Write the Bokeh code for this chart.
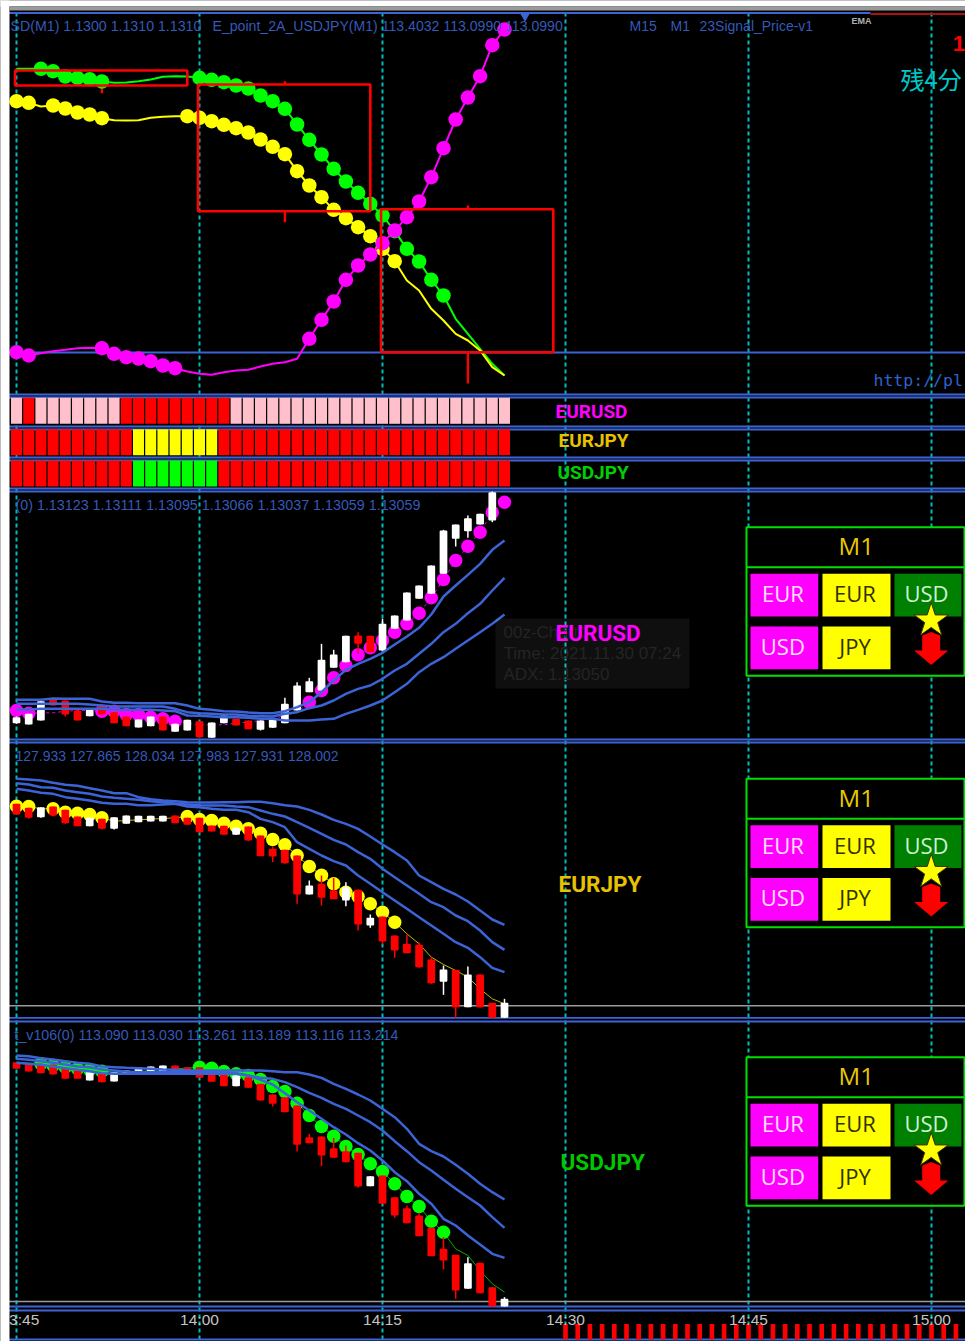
from bokeh.plotting import figure
from bokeh.models import Range1d, FixedTicker
from bokeh.core.properties import value
from bokeh.embed import file_html
from bokeh.resources import INLINE
import numpy as np

# ---------- time axis ----------
minutes = list(range(-15, 26))
tick_minutes = [-15, 0, 15, 30, 45, 60]
tick_labels = ["13:45", "14:00", "14:15", "14:30", "14:45", "15:00"]

# ---------- top panel: three lines (readings, 1/3 px from page top) ----------
top_green = [205,205,205,212,228,232,236,243,247,246,242,237,229,227,228,232,238,245,255,264,285,302,325,372,418,462,505,543,577,610,645,692,745,783,838,885,955,1000,1045,1090,1125]
top_yellow = [302,307,318,315,324,336,342,353,359,360,359,352,349,347,347,352,362,373,383,396,417,439,461,512,555,590,628,653,680,707,745,782,840,870,925,960,1000,1020,1050,1100,1125]
top_magenta = [1055,1065,1058,1052,1048,1043,1042,1043,1060,1070,1074,1082,1095,1103,1113,1120,1123,1115,1110,1108,1098,1090,1085,1075,1015,958,903,838,795,762,728,690,650,603,530,443,357,291,227,134,87]
green_dot_minutes = [-13,-12,-11,-10,-9,-8] + list(range(0, 21))
yellow_dot_minutes = [-15,-14,-12,-11,-10,-9,-8] + list(range(-1, 17))
magenta_dot_minutes = [-15,-14,-8,-7,-6,-5,-4,-3,-2] + list(range(9, 26))

# M15 candles of the top panel
m15_start = [-15, 0, 15]
m15_top = [70, 84, 208.7]
m15_bottom = [85, 210.7, 351.7]
m15_high = [70, 80.7, 205]
m15_low = [92.7, 221.7, 383]

# ---------- signal strips ----------
strip_rows = ["EURUSD", "EURJPY", "USDJPY"]
eurusd_state = list("prppppppp" "rrrrrrrrr" "ppppppppppppppppppppppp")
eurjpy_state = list("rrrrrrrrrr" "yyyyyyy" "rrrrrrrrrrrrrrrrrrrrrrrr")
usdjpy_state = list("rrrrrrrrrr" "ggggggg" "rrrrrrrrrrrrrrrrrrrrrrrr")

# ---------- EURUSD candles ----------
eu_top = [980,970,932,928,930,960,958,945,965,978,987,978,978,1000,988,992,996,975,985,990,990,985,940,885,872,808,792,736,735,736,700,675,606,585,525,420,402,383,370,305]
eu_bot = [998,1002,990,945,972,990,977,972,998,1007,1011,1007,1020,1024,1020,1040,1042,998,1005,1016,1018,1012,998,960,905,900,832,815,760,785,780,715,690,625,610,550,445,422,402,390]
eu_hi = [978,970,932,928,930,960,958,945,965,978,987,978,978,1000,988,992,996,975,985,990,990,985,922,875,862,760,778,736,725,736,685,675,606,585,525,418,402,375,370,303]
eu_lo = [1000,1002,990,945,978,990,977,972,998,1007,1011,1007,1020,1024,1020,1040,1042,998,1005,1016,1020,1012,998,960,905,900,832,815,790,785,780,715,690,625,610,550,468,442,402,395]
eu_col = list("wwwrrrwrrrwwrwwrwwrrwwwwwwwwrrwwwwwwwwww")
eu_ema = [960,968,967,967,962,960,960,962,962,972,972,980,985,992,998,1003,1003,1003,998,995,990,985,975,965,935,900,862,825,793,772,750,725,700,668,622,567,510,467,425,366,335]
eu_a = [928,928,928,924,925,925,925,933,937,937,938,938,938,938,945,955,958,962,963,966,968,968,962,950,935,905,870,838,820,805,787,762,738,712,672,618,585,553,520,478,450]
eu_b = [940,940,940,940,940,940,942,945,948,948,948,948,948,955,965,968,970,972,972,976,977,978,970,965,953,945,930,910,895,885,865,840,820,790,760,725,700,668,640,600,562]
eu_c = [957,957,955,955,955,955,955,955,958,958,958,958,960,962,975,976,978,980,980,982,985,985,990,990,990,987,985,970,958,945,930,905,880,845,820,800,775,750,725,700,672]

# ---------- EURJPY candles ----------
ej_top = [190,202,200,198,208,228,232,235,230,225,226,226,226,225,232,232,255,256,262,258,285,325,328,345,435,430,450,440,448,532,528,585,610,613,657,687,688,702,702,787,787]
ej_bot = [222,232,230,225,248,257,257,265,265,250,245,243,243,248,253,275,273,283,283,300,347,348,368,462,462,472,476,480,552,555,603,630,638,680,728,724,800,800,800,832,832]
ej_hi = [190,202,200,198,208,228,232,235,230,225,226,226,226,225,232,232,255,256,262,258,285,318,328,345,420,405,412,425,448,522,528,585,582,605,650,675,688,678,702,787,775]
ej_lo = [222,235,232,228,250,257,257,267,267,250,245,243,243,248,253,277,273,283,283,302,347,365,370,490,462,495,476,497,570,562,612,652,638,682,730,763,832,800,802,832,832]
ej_col = list("rrwrrrwrwwwwwrrrrrwrrrrrwrrwrwrrrrrwrwrrw")
ej_ema = [197,198,205,205,215,218,222,232,242,240,238,236,234,232,228,237,240,248,257,265,278,297,313,345,378,404,430,455,468,490,515,545,580,610,650,672,690,710,745,775,790]
ej_a = [115,117,120,127,133,136,143,150,158,158,170,176,180,182,185,186,186,185,185,184,184,188,194,198,208,222,238,250,265,288,312,335,360,405,425,445,462,483,510,537,553]
ej_b = [128,132,140,142,150,155,160,168,172,175,178,182,185,190,192,194,195,195,198,200,210,220,228,245,262,280,298,312,335,355,385,410,435,460,485,500,525,542,570,605,628]
ej_c = [145,150,157,160,170,175,180,187,190,190,194,194,192,190,198,200,205,208,208,215,235,245,260,305,325,345,362,375,405,430,455,480,505,530,555,580,605,622,650,682,695]

# ---------- USDJPY candles ----------
uj_top = [125,130,130,132,145,150,155,158,155,150,140,138,135,135,140,140,160,160,165,170,190,222,230,255,350,348,383,392,397,467,465,530,563,585,622,685,703,728,727,800,835]
uj_bot = [145,153,158,162,175,175,180,185,183,162,160,158,155,155,158,172,184,197,197,202,240,250,275,373,368,405,412,425,498,497,550,585,608,647,707,720,810,805,818,858,858]
uj_hi = [125,130,130,132,145,150,155,158,155,150,140,138,135,135,140,140,160,160,165,170,190,222,230,255,340,348,352,375,397,467,465,530,555,578,622,650,703,710,727,800,830]
uj_lo = [145,153,158,162,175,175,180,185,183,162,160,158,155,155,158,172,184,197,197,202,240,258,275,393,368,437,412,425,502,497,550,592,608,647,707,747,835,805,818,858,858]
uj_col = list("rrrrrrwrwwwwwrrrrrwrrrrrrrrrrwrrrrrrrwrrw")
uj_ema = [125,128,130,135,140,145,148,152,155,155,153,150,148,145,143,140,143,153,160,165,177,198,213,248,285,318,347,378,402,430,453,490,528,558,602,635,685,705,750,790,815]
uj_a = [105,107,113,117,122,127,130,138,140,142,143,145,147,148,150,150,150,150,150,150,150,152,155,155,162,172,190,205,222,240,265,290,325,370,392,408,433,460,490,515,537]
uj_b = [115,118,122,127,132,138,140,147,150,153,155,155,155,155,155,155,155,155,158,165,172,175,185,200,217,232,250,265,285,305,330,362,392,425,450,478,505,530,555,590,622]
uj_c = [127,130,133,138,143,148,152,158,160,160,160,160,160,160,160,160,160,160,160,165,178,192,218,245,270,295,320,342,368,390,420,455,482,520,550,595,615,645,672,700,712]

# ---------- future bars along the bottom ----------
future_minutes = list(range(30, 63))
future_top = [1323.5] * 33

# ---------- titles ----------
title_top_a = "SD(M1) 1.1300 1.1310 1.1310"
title_top_b = "E_point_2A_USDJPY(M1) 113.4032 113.0990 113.0990"
title_tf = ["M15", "M1", "23Signal_Price-v1"]
title_eu = "(0) 1.13123 1.13111 1.13095 1.13066 1.13037 1.13059 1.13059"
title_ej = "127.933 127.865 128.034 127.983 127.931 128.002"
title_uj = "t_v106(0) 113.090 113.030 113.261 113.189 113.116 113.214"

BLUE = "#3c64d6"
TXT = "#3559b8"
RED = "#ff0000"
WHITE = "#ffffff"
PX0, PXM = 199.0, 12.2
def X(px):
    return (np.asarray(px, dtype=float) - PX0) / PXM
def Z(readings, base=0.0):
    return base + np.asarray(readings, dtype=float) / 3.0

p = figure(width=965, height=1341, output_backend="svg", toolbar_location=None,
           x_range=Range1d(float(X(0)), float(X(965))), y_range=Range1d(1341, 0),
           background_fill_color="#000000", border_fill_color="#000000", min_border=0,
           outline_line_color=None)
p.grid.visible = False
p.yaxis.visible = False

ax = p.xaxis[0]
ax.fixed_location = 1307
ax.ticker = FixedTicker(ticks=tick_minutes)
ax.major_label_overrides = dict(zip(tick_minutes, tick_labels))
ax.axis_line_color = None
ax.major_tick_line_color = None
ax.minor_tick_line_color = None
ax.major_tick_in = 0
ax.major_tick_out = 0
ax.major_label_standoff = 3
ax.major_label_text_color = "#c4c4c4"
ax.major_label_text_font = "Liberation Sans"
ax.major_label_text_font_size = "15.5px"

# dashed time lines
p.segment(tick_minutes, [12]*6, tick_minutes, [1341]*6, line_color="#00bcbc", line_width=2, line_dash="4 3")

# horizontal separators
sep_y = [352, 394, 397, 426, 429, 457, 460, 488, 491, 739, 742, 1017.3, 1021, 1306, 1310, 1339]
p.segment([X(8)]*len(sep_y), sep_y, [X(965)]*len(sep_y), sep_y, line_color=BLUE, line_width=1.8)
p.segment([X(8)], [12.5], [X(870)], [12.5], line_color=BLUE, line_width=2)
p.segment([X(870)], [13.5], [X(965)], [13.5], line_color="#b01010", line_width=2)
p.scatter([X(524.5)], [16], marker="inverted_triangle", size=9, fill_color=BLUE, line_color=None)
grey_y = [1005.3, 1301]
p.segment([X(8)]*2, grey_y, [X(965)]*2, grey_y, line_color="#9a9a9a", line_width=1.6)

# top panel M15 candles
for s, t, b, h, l in zip(m15_start, m15_top, m15_bottom, m15_high, m15_low):
    p.segment([s + 7]*2, [h, b], [s + 7]*2, [t, l], line_color=RED, line_width=2.4)

# top panel lines and dots
def ema(series, dots, line_color, width, dot_color, size=14.5, dash="solid", base=0.0):
    y = Z(series, base)
    p.line(minutes, y, line_color=line_color, line_width=width, line_dash=dash)
    p.scatter(dots, [y[m + 15] for m in dots], marker="circle", size=size, fill_color=dot_color, line_color=None)

ema(top_green, green_dot_minutes, "#00ff00", 2, "#00ff00")
ema(top_yellow, yellow_dot_minutes, "#ffff00", 2, "#ffff00")
ema(top_magenta, magenta_dot_minutes, "#ff00ff", 2, "#ff00ff")
p.quad(left=[s - 0.12 for s in m15_start], right=[s + 14 for s in m15_start], top=m15_top, bottom=m15_bottom,
       fill_color=None, line_color=RED, line_width=2.6)

# strips
state_colors = {"p": "#ffc0cb", "r": "#ff0000", "y": "#ffff00", "g": "#00ff00"}
for states, (t, b) in zip([eurusd_state, eurjpy_state, usdjpy_state], [(397.3, 423.3), (428.7, 454.7), (460, 486)]):
    p.vbar(x=minutes, width=0.9, top=[t]*41, bottom=[b]*41, fill_color=[state_colors[s] for s in states], line_color=None)

# candle panels
def candles(top, bot, hi, lo, col, base):
    mm = minutes[:len(top)]
    cc = [WHITE if c == "w" else RED for c in col]
    p.segment(mm, Z(hi, base), mm, Z(lo, base), line_color=cc, line_width=1.5)
    p.vbar(x=mm, width=0.47, top=Z(top, base) + 1, bottom=Z(bot, base) - 1, fill_color=cc, line_color=cc,
           line_width=2, line_join="round")

def blue_lines(a, b, c, base):
    for s in (a, b, c):
        p.line(minutes, Z(s, base), line_color=BLUE, line_width=2.5)

ema(eu_ema, magenta_dot_minutes, "#e000e0", 1, "#ff00ff", size=13.5, dash="3 3", base=390)
candles(eu_top, eu_bot, eu_hi, eu_lo, eu_col, 390)
blue_lines(eu_a, eu_b, eu_c, 390)

ema(ej_ema, yellow_dot_minutes, "#c8b400", 1, "#ffff00", size=13.5, base=740)
candles(ej_top, ej_bot, ej_hi, ej_lo, ej_col, 740)
blue_lines(ej_a, ej_b, ej_c, 740)

ema(uj_ema, green_dot_minutes, "#00b000", 1, "#00ff00", size=13.5, base=1020)
candles(uj_top, uj_bot, uj_hi, uj_lo, uj_col, 1020)
blue_lines(uj_a, uj_b, uj_c, 1020)

# future bars
p.vbar(x=future_minutes, width=0.38, top=future_top, bottom=[1339]*33, fill_color=RED, line_color=None)

def label(px, y, txt, color, size, font="Liberation Sans", align="left", style="normal"):
    p.text([X(px)], [y], text=[txt], text_color=color, text_font=value(font), text_font_size=size,
           text_align=align, text_baseline="middle", text_font_style=style)

# texts
label(10, 25.7, title_top_a, TXT, "14.2px")
label(212, 25.7, title_top_b, TXT, "14.1px")
for txt, px in zip(title_tf, [629, 670, 699]):
    label(px, 25.7, txt, TXT, "14px")
label(851, 20.5, "EMA", "#b0b0b0", "9px", style="bold")
label(900, 78, "残4分", "#00c8c8", "24px", font="Noto Sans CJK JP")
label(964.5, 43, "1", RED, "22px", style="bold", align="right")
label(873, 380, "http://pl", "#3060d0", "16.5px", font="DejaVu Sans Mono")
label(15, 504, title_eu, TXT, "14.3px")
label(15, 755, title_ej, TXT, "14px")
label(14, 1034, title_uj, TXT, "14.2px")

for txt, col, px, y in zip(strip_rows, ["#ff00ff", "#e6c200", "#00d000"], [555, 558, 557], [411, 440, 472]):
    label(px, y, txt, col, "19px", font="Roboto", style="bold")

# tooltip
p.quad(left=[X(495)], right=[X(689)], top=[618], bottom=[688], fill_color="#ffffff", fill_alpha=0.06, line_color=None)
for txt, y in zip(["00z-Chart", "Time: 2021.11.30 07:24", "ADX: 1.13050"], [632, 653, 674]):
    label(503, y, txt, "#242424", "17px")

for txt, col, px, y in zip(strip_rows, ["#ff00ff", "#e6c200", "#00c800"], [555, 558, 560], [632, 883, 1161]):
    label(px, y, txt, col, "22.5px", font="Roboto", style="bold")

# M1 boxes
for dy in [0, 251.5, 530]:
    p.quad(left=[X(746)], right=[X(964)], top=[526.7 + dy], bottom=[675.3 + dy], fill_color="#000000", line_color="#00e000", line_width=2)
    p.segment([X(746)], [566.7 + dy], [X(964)], [566.7 + dy], line_color="#00e000", line_width=2)
    label(855.7, 545 + dy, "M1", "#e8c800", "24px", font="Open Sans", align="center")
    cells = [(750, 817.7, 573.3, 616, "#ff00ff", "EUR", "#ffe0ff"),
             (822, 890, 573.3, 616, "#ffff00", "EUR", "#303000"),
             (894, 961, 573.3, 616, "#008000", "USD", "#d0f0d0"),
             (750, 817.7, 626, 668.7, "#ff00ff", "USD", "#ffe0ff"),
             (822, 890, 626, 668.7, "#ffff00", "JPY", "#303000")]
    for l, r, t, b, fc, txt, tc in cells:
        p.quad(left=[X(l)], right=[X(r)], top=[t + dy], bottom=[b + dy], fill_color=fc, line_color=None)
        label((l + r) / 2 - 1.5, (t + b) / 2 - 2 + dy, txt, tc, "22px", font="Open Sans", align="center")
    cx = 930.7
    cy = 648 + dy
    ax_off = [0, 9, 9, 17, 0, -17, -9, -9]
    ay_off = [-16.5, -13, 2, 2, 16.5, 2, 2, -13]
    p.patch(X([cx + a for a in ax_off]), [cy + a for a in ay_off], fill_color=RED, line_color=None)
    p.scatter([X(cx)], [620 + dy], marker="star", size=36, fill_color="#ffff00", line_color="#403000", line_width=1)

# white page edge of the screenshot
p.quad(left=[X(0)], right=[X(9)], top=[0], bottom=[1341], fill_color="#ffffff", line_color=None, level="overlay")
p.quad(left=[X(0)], right=[X(965)], top=[0], bottom=[6], fill_color="#ffffff", line_color=None, level="overlay")
p.segment([X(9)], [8], [X(965)], [8], line_color="#9a9a9a", line_width=4, level="overlay")

open("out.html", "w").write(file_html(p, INLINE))
